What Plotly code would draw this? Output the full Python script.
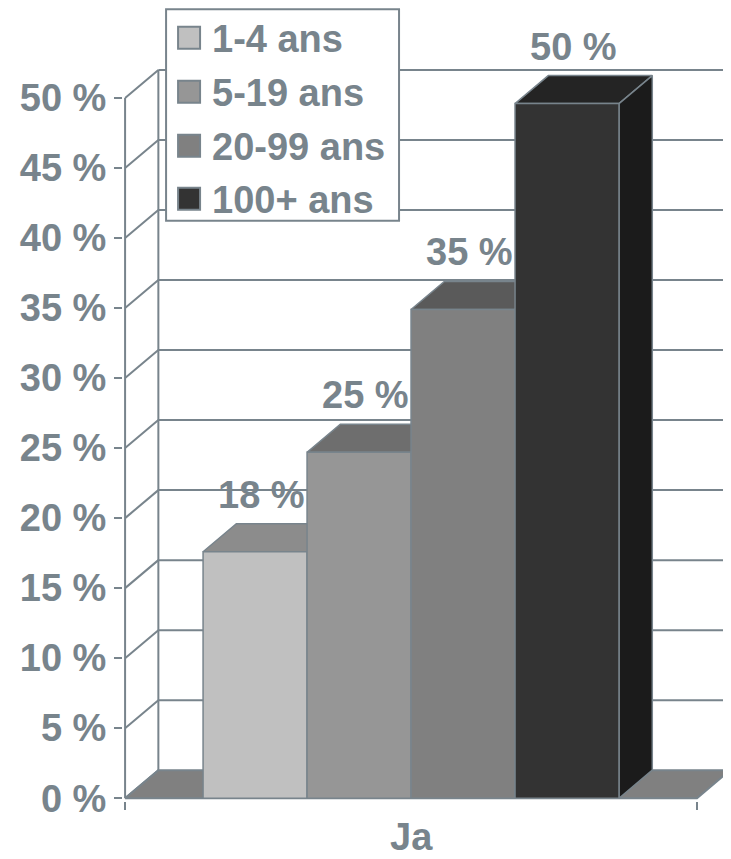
import plotly.graph_objects as go

# ---- data ----
categories = ["1-4 ans", "5-19 ans", "20-99 ans", "100+ ans"]
values = [17.6, 24.7, 34.9, 49.6]
y_ticks = [0, 5, 10, 15, 20, 25, 30, 35, 40, 45, 50]
x_label = "Ja"

# ---- style ----
front_colors = ["#C0C0C0", "#969696", "#808080", "#333333"]
top_colors = ["#8C8C8C", "#6E6E6E", "#5A5A5A", "#242424"]
side_colors = ["#8A8A8A", "#6A6A6A", "#575757", "#1B1B1B"]
floor_color = "#808080"
line_color = "#78848C"
text_color = "#78848C"
font_family = "Liberation Sans, Arial, sans-serif"
FS = 38

OFF = 8                      # page body margin
W, H = 731 - OFF, 859 - OFF
DX, DY = 0.32, 2.0           # oblique depth offset (x units, % units)
XL, XR = -0.75, 4.75         # floor front extent
XU, YU = 104.0, 14.0         # px per unit
X0_PAGE, Y0_PAGE = 203.0, 798.3   # page px of x=0, y=0
X_MIN, Y_MIN, Y_MAX = -0.77, -0.2, 52.5
L_M = X0_PAGE - OFF + X_MIN * XU
X_MAX = (W - (X0_PAGE - OFF)) / XU
T_M = (Y0_PAGE - OFF) - Y_MAX * YU
B_M = H - ((Y0_PAGE - OFF) - Y_MIN * YU)

def px_x(px):   # page px -> paper
    return (px - OFF - L_M) / (W - L_M)

def px_y(py):
    return (H - B_M - (py - OFF)) / (H - B_M - T_M)

fig = go.Figure()

# back wall / side wall grid lines
gx, gy = [], []
for v in y_ticks:
    if v > 0:
        gx += [XL + DX, X_MAX, None]
        gy += [v + DY, v + DY, None]
    gx += [XL, XL + DX, None]
    gy += [v, v + DY, None]
gx += [XL + DX, XL + DX, None, XL, XL, None]
gy += [DY, y_ticks[-1] + DY, None, 0, y_ticks[-1], None]
fig.add_trace(go.Scatter(x=gx, y=gy, mode="lines",
                         line=dict(color=line_color, width=2),
                         hoverinfo="skip", showlegend=False))

# floor
fig.add_trace(go.Scatter(x=[XL, XR, XR + DX, XL + DX, XL],
                         y=[0, 0, DY, DY, 0], mode="lines", fill="toself",
                         fillcolor=floor_color,
                         line=dict(color=line_color, width=2),
                         hoverinfo="skip", showlegend=False))

def poly(xs, ys, color):
    fig.add_trace(go.Scatter(x=xs + [xs[0]], y=ys + [ys[0]], mode="lines",
                             fill="toself", fillcolor=color,
                             line=dict(color=line_color, width=1.5),
                             hoverinfo="skip", showlegend=False))

for i, v in enumerate(values):
    x0, x1 = i, i + 1
    poly([x0, x1, x1 + DX, x0 + DX], [v, v, v + DY, v + DY], top_colors[i])
    poly([x1, x1 + DX, x1 + DX, x1], [0, DY, v + DY, v], side_colors[i])
    poly([x0, x1, x1, x0], [0, 0, v, v], front_colors[i])

annotations = []
for i, v in enumerate(values):
    annotations.append(dict(x=i + 0.5, y=v + DY, xref="x", yref="y",
                            text=f"{round(v)} %", showarrow=False,
                            yshift=29, xshift=6, yanchor="middle",
                            font=dict(family=font_family, size=FS,
                                      color=text_color, weight="bold")))

# category label
annotations.append(dict(x=len(values) / 2, y=px_y(837), xref="x", yref="paper",
                        text=x_label, showarrow=False, yanchor="middle",
                        font=dict(family=font_family, size=FS,
                                  color=text_color, weight="bold")))

# manual legend
shapes = [dict(type="rect", xref="paper", yref="paper",
               x0=px_x(166), x1=px_x(399), y0=px_y(221), y1=px_y(9.5),
               line=dict(color=line_color, width=2), fillcolor="white",
               layer="above")]
row_y = [38, 92, 146, 199]
for i, name in enumerate(categories):
    cy = row_y[i]
    shapes.append(dict(type="rect", xref="paper", yref="paper",
                       x0=px_x(178), x1=px_x(200), y0=px_y(cy + 11), y1=px_y(cy - 11),
                       line=dict(color=line_color, width=2),
                       fillcolor=front_colors[i], layer="above"))
    annotations.append(dict(x=px_x(210), y=px_y(cy + 1), xref="paper", yref="paper",
                            text=name, showarrow=False, xanchor="left",
                            yanchor="middle",
                            font=dict(family=font_family, size=FS,
                                      color=text_color, weight="bold")))

fig.update_layout(
    width=W, height=H,
    margin=dict(l=L_M, r=0, t=T_M, b=B_M, autoexpand=False),
    paper_bgcolor="white", plot_bgcolor="white",
    showlegend=False,
    xaxis=dict(range=[X_MIN, X_MAX], showgrid=False, zeroline=False,
               showline=False, tickvals=[XL, XR], ticks="outside",
               ticklen=8, tickwidth=2, tickcolor=line_color,
               showticklabels=False, fixedrange=True),
    yaxis=dict(range=[Y_MIN, Y_MAX], showgrid=False, zeroline=False,
               showline=False, tickvals=y_ticks,
               ticktext=[f"{t} %" for t in y_ticks],
               ticks="outside", ticklen=8, tickwidth=2, tickcolor=line_color,
               tickfont=dict(family=font_family, size=FS, color=text_color,
                             weight="bold"),
               automargin=False, fixedrange=True),
    annotations=annotations,
    shapes=shapes,
)

fig.write_html("out.html")
